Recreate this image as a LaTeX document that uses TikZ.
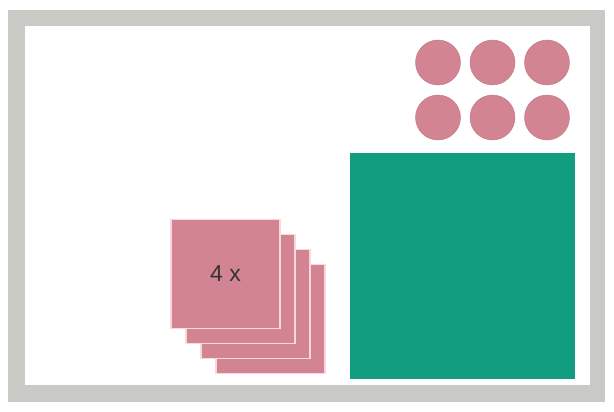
\documentclass[tikz,border=0pt]{standalone}
\usepackage{fontspec}
\setmainfont{Liberation Sans}
\definecolor{framegray}{RGB}{201,201,197}
\definecolor{rosepink}{RGB}{211,132,146}
\definecolor{sheetedge}{RGB}{250,214,222}
\definecolor{boxgreen}{RGB}{17,158,128}
\tikzstyle{sheet} = [rectangle, fill=rosepink, draw=sheetedge, line width=1.2pt, minimum size=109pt, inner sep=0pt, font=\fontsize{23}{23}\selectfont, text=black!80]
\tikzstyle{dot} = [circle, fill=rosepink, draw=rosepink!90!black, line width=0.4pt, minimum size=45pt, inner sep=0pt]
\tikzstyle{block} = [rectangle, fill=boxgreen, draw=none, minimum width=225pt, minimum height=226pt, inner sep=0pt]
\begin{document}
\begin{tikzpicture}[x=1pt,y=-1pt]
       \useasboundingbox (0,0) rectangle (614,412);
       \fill[white] (0,0) rectangle (614,412);
       \fill[framegray] (8,10) rectangle (605,402);
       \fill[white] (25,26) rectangle (590,385);
       \node[block] (stock) at (462.5,266) {};
       \foreach \pos/\name in {{(438,62.5)/c1}, {(492.5,62.5)/c2}, {(547,62.5)/c3}, {(438,117.5)/c4}, {(492.5,117.5)/c5}, {(547,117.5)/c6}} {
           \node[dot] (\name) at \pos {};
       }
       \foreach \i in {3,2,1} {
           \node[sheet] (s\i) at ({225.5+15*\i},{274+15*\i}) {};
       }
       \node[sheet] (s0) at (225.5,274) {4 x};
\end{tikzpicture}
\end{document}
